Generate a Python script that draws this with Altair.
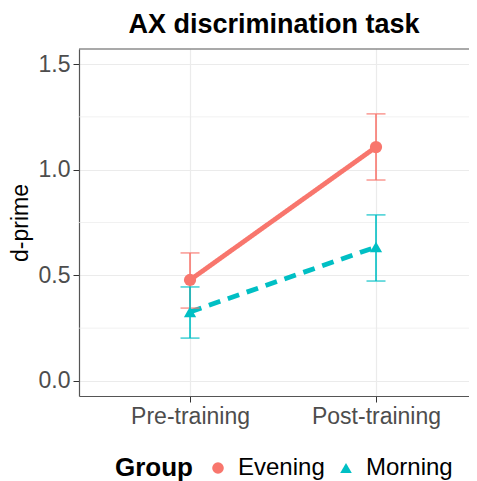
import altair as alt
import pandas as pd

phases = ["Pre-training", "Post-training"]
groups = ["Evening", "Morning"]
evening_mean = [0.478, 1.107]
evening_lo = [0.345, 0.951]
evening_hi = [0.606, 1.264]
morning_mean = [0.327, 0.634]
morning_lo = [0.203, 0.473]
morning_hi = [0.445, 0.786]
colors = ["#F8766D", "#00BFC4"]
minor_grid = [0.25, 0.75, 1.25]
y_top = [1.571]

rows = []
for g, m, lo, hi in [("Evening", evening_mean, evening_lo, evening_hi),
                     ("Morning", morning_mean, morning_lo, morning_hi)]:
    for i, p in enumerate(phases):
        rows.append({"Group": g, "phase": p, "pos": i + 1, "mean": m[i], "lo": lo[i], "hi": hi[i]})
df = pd.DataFrame(rows)
grid_df = pd.DataFrame({"y": minor_grid})
top_df = pd.DataFrame({"y": y_top})

FONT = "Liberation Sans"
label_expr = f"datum.value == 1 ? '{phases[0]}' : '{phases[1]}'"
BORDER = "#555555"

xscale = alt.Scale(domain=[0.403, 2.5], nice=False, zero=False)
yscale = alt.Scale(domain=[-0.071, 1.571], nice=False, zero=False)
cscale = alt.Scale(domain=groups, range=colors)
sscale = alt.Scale(domain=groups, range=["circle", "triangle-up"])
dscale = alt.Scale(domain=groups, range=[[1, 0], [12, 8]])

x_enc = alt.X("pos:Q", scale=xscale,
              axis=alt.Axis(values=[1, 2], labelExpr=label_expr, title=None,
                            labelFontSize=23, labelColor="#4D4D4D", labelPadding=3,
                            tickSize=6, tickColor="#333333", domain=True,
                            domainColor=BORDER, domainWidth=1.2,
                            gridColor="#EBEBEB", gridWidth=1.2, labelFont=FONT))

color_enc = alt.Color("Group:N", scale=cscale, title="Group")

base = alt.Chart(df)

minor = alt.Chart(grid_df).mark_rule(color="#EBEBEB", strokeWidth=0.7).encode(
    y=alt.Y("y:Q", scale=yscale)
)

top_border = alt.Chart(top_df).mark_rule(color=BORDER, strokeWidth=1.2).encode(
    y=alt.Y("y:Q", scale=yscale)
)

lines = base.mark_line(strokeWidth=4.8).encode(
    x=x_enc,
    y=alt.Y("mean:Q", scale=yscale,
            axis=alt.Axis(values=[0, 0.5, 1.0, 1.5], format=".1f", title="d-prime",
                          titleFontSize=23, titleFont=FONT, titleFontWeight="normal",
                          titleColor="black", titlePadding=6,
                          labelFontSize=23, labelColor="#4D4D4D", labelPadding=3,
                          tickSize=6, tickColor="#333333", domain=True,
                          domainColor=BORDER, domainWidth=1.2,
                          gridColor="#EBEBEB", gridWidth=1.2, labelFont=FONT)),
    color=color_enc,
    strokeDash=alt.StrokeDash("Group:N", scale=dscale, title="Group"),
)

bars = base.mark_rule(strokeWidth=1.6).encode(
    x="pos:Q", y="lo:Q", y2="hi:Q", color=color_enc,
)

caps_lo = base.mark_tick(orient="horizontal", size=19, thickness=1.6).encode(
    x="pos:Q", y="lo:Q", color=color_enc
)
caps_hi = base.mark_tick(orient="horizontal", size=19, thickness=1.6).encode(
    x="pos:Q", y="hi:Q", color=color_enc
)

points = base.mark_point(filled=True, opacity=1, size=150).encode(
    x="pos:Q", y="mean:Q", color=color_enc,
    shape=alt.Shape("Group:N", scale=sscale, title="Group"),
)

chart = alt.layer(minor, top_border, lines, bars, caps_lo, caps_hi, points).properties(
    width=390, height=347,
    title=alt.TitleParams("AX discrimination task", fontSize=27, font=FONT, fontWeight="bold",
                          color="black", anchor="middle", offset=9),
    autosize=alt.AutoSizeParams(type="none"),
    padding={"left": 71, "top": 41, "right": 0, "bottom": 85},
).configure_view(
    stroke=None
).configure_legend(
    orient="none", legendX=36, legendY=407, direction="horizontal",
    titleOrient="left", titleFontSize=26, titleFont=FONT, titleFontWeight="bold",
    titleColor="black", labelFontSize=24, labelFont=FONT, labelColor="black",
    symbolSize=135, columnPadding=9, titlePadding=13, labelOffset=8,
    symbolStrokeWidth=0, symbolOpacity=1,
)

chart.save("out.html", embed_options={"renderer": "svg", "actions": False})
